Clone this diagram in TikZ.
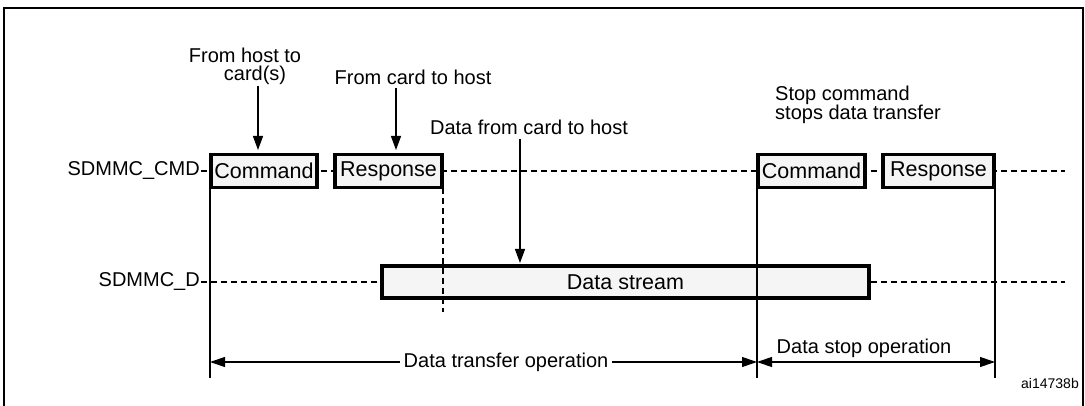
\documentclass[tikz,border=0pt]{standalone}
\usepackage{fontspec}
\setmainfont{Liberation Sans}
\usetikzlibrary{arrows.meta}
\begin{document}
\begin{tikzpicture}[x=1pt,y=-1pt,
  sig/.style={draw=black,line width=3.2pt,fill=black!4,minimum height=33pt,inner sep=0pt,font=\fontsize{21.5}{23}\selectfont},
  lbl/.style={font=\fontsize{20}{21}\selectfont,inner sep=1pt},
  lbl2/.style={font=\fontsize{20}{18}\selectfont,inner sep=1pt},
  dsh/.style={dash pattern=on 6pt off 4pt,line width=1.1pt},
  arr/.style={line width=1.2pt,-{Triangle[length=14pt,width=10pt]}},
  dim/.style={line width=1.2pt,{Triangle[length=15pt,width=10pt]}-{Triangle[length=15pt,width=10pt]}},
  vl/.style={line width=1.2pt}]
\useasboundingbox (0,0) rectangle (1085,406);
\draw[line width=1.6pt] (4,8) rectangle (1083,410);
% labels
\node[lbl,anchor=east] (lcmd) at (201,171) {SDMMC\_CMD};
\node[lbl,anchor=east] (ld) at (201,282) {SDMMC\_D};
% signal lines
\coordinate (ce) at (1065,171);
\coordinate (de) at (1065,282);
\draw[dsh] (lcmd.east) -- (ce);
\draw[dsh] (ld.east) -- (de);
% boxes
\node[sig,minimum width=106pt] (c1) at (264,171) {Command};
\node[sig,minimum width=107pt] (r1) at (388.5,171) {Response};
\node[sig,minimum width=107pt] (c2) at (811.5,171) {Command};
\node[sig,minimum width=111pt] (r2) at (938.5,171) {Response};
\node[sig,minimum width=487pt,minimum height=32pt] (ds) at (625.5,282) {Data stream};
% verticals
\coordinate (v1t) at (210,153); \coordinate (v1b) at (210,378);
\coordinate (v2t) at (757,153); \coordinate (v2b) at (757,378);
\coordinate (v3t) at (995,153); \coordinate (v3b) at (995,378);
\coordinate (vdt) at (443,188); \coordinate (vdb) at (443,312);
\draw[vl] (v1t) -- (v1b);
\draw[vl] (v2t) -- (v2b);
\draw[vl] (v3t) -- (v3b);
\draw[dsh] (vdt) -- (vdb);
% annotations
\node[lbl2,align=center] (t1) at (245,66) {From host to\\\hspace*{20pt}card(s)};
\node[lbl] (t2) at (413,77) {From card to host};
\node[lbl] (t3) at (529,127) {Data from card to host};
\node[lbl2,align=left,anchor=west] (t4) at (774,105) {Stop command\\stops data transfer};
\coordinate (a1) at (258,86);
\coordinate (a2) at (396,88);
\coordinate (a3) at (520,139);
\draw[arr] (a1) -- (258,150);
\draw[arr] (a2) -- (396,150);
\draw[arr] (a3) -- (520,263);
% dimensions
\draw[dim] (v1b |- 0,362) -- (v2b |- 0,362);
\node[lbl,fill=white,inner xsep=4pt] (d1) at (506,362) {Data transfer operation};
\draw[dim] (v2b |- 0,362) -- (v3b |- 0,362);
\node[lbl] (d2) at (864,348) {Data stop operation};
\node[font=\fontsize{14}{15}\selectfont] (id) at (1050,383) {ai14738b};
\end{tikzpicture}
\end{document}
